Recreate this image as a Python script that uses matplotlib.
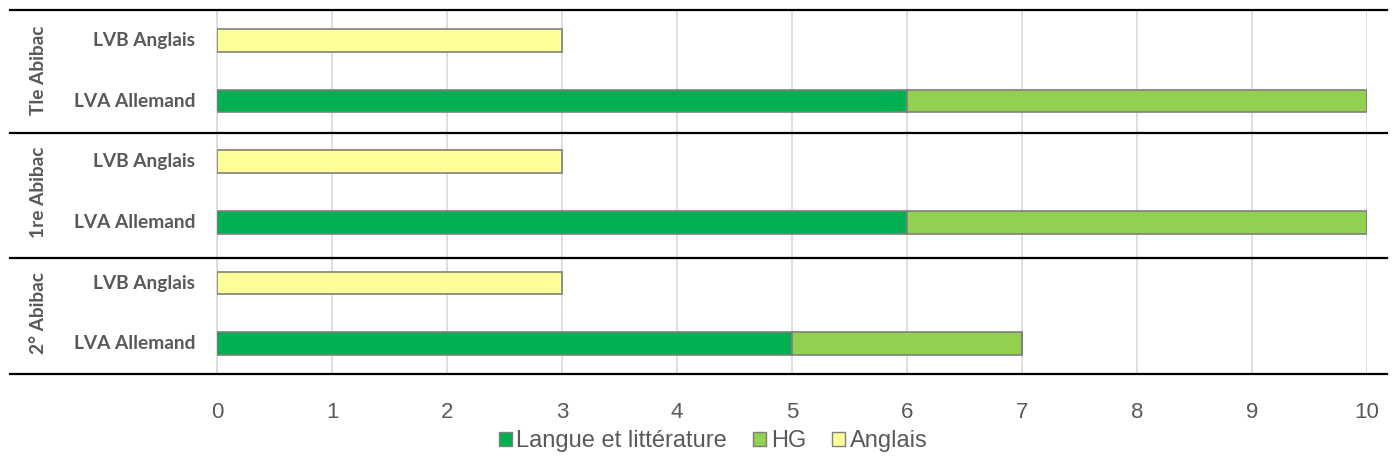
import matplotlib.pyplot as plt
from matplotlib.lines import Line2D
from matplotlib.patches import Patch

groups = ['Tle Abibac', '1re Abibac', '2° Abibac']
categories = ['LVB Anglais', 'LVA Allemand']
series = ['Langue et littérature', 'HG', 'Anglais']
colors = ['#00B050', '#92D050', '#FFFF99']

# values per row, top to bottom: Tle LVB, Tle LVA, 1re LVB, 1re LVA, 2° LVB, 2° LVA
langue = [0, 6, 0, 6, 0, 5]
hg = [0, 4, 0, 4, 0, 2]
anglais = [3, 0, 3, 0, 3, 0]
xticks = [0, 1, 2, 3, 4, 5, 6, 7, 8, 9, 10]

W, H = 1397, 469
fig = plt.figure(figsize=(W / 100, H / 100), dpi=100)
ax = fig.add_axes([217 / W, 1 - 374 / H, (1367 - 217) / W, (374 - 10) / H])

rows = list(range(6))
bh = 0.37
ec = '#7F7F7F'
ax.barh(rows, langue, height=bh, color=colors[0], edgecolor=ec, linewidth=1.2, zorder=3)
ax.barh(rows, hg, left=langue, height=bh, color=colors[1], edgecolor=ec, linewidth=1.2, zorder=3)
left2 = [a + b for a, b in zip(langue, hg)]
ax.barh(rows, anglais, left=left2, height=bh, color=colors[2], edgecolor=ec, linewidth=1.2, zorder=3)

ax.set_xlim(0, 10)
ax.set_ylim(5.5, -0.5)
ax.set_xticks(xticks)
ax.set_xticklabels([str(t) for t in xticks], fontsize=16, color='#595959', family='Liberation Sans')
ax.tick_params(axis='x', length=0, pad=20)
ax.set_yticks([])
ax.grid(axis='x', color='#D9D9D9', linewidth=1.2, zorder=0)
for s in ['top', 'right', 'bottom']:
    ax.spines[s].set_visible(False)
ax.spines['left'].set_color('#D9D9D9')
ax.spines['left'].set_linewidth(1.2)

# category labels
for i in rows:
    ax.text(-0.19, i, categories[i % 2], ha='right', va='center', fontsize=13.8,
            fontweight='bold', color='#595959', family='Lato')

# group labels (rotated)
for g, name in enumerate(groups):
    ax.text(-1.55, 2 * g + 0.5, name, ha='center', va='center', rotation=90,
            fontsize=13.8, fontweight='bold', color='#595959', family='Lato')

# separator lines
for y in [10, 133, 258, 374]:
    fig.add_artist(Line2D([10 / W, 1387 / W], [1 - y / H, 1 - y / H],
                          color='black', linewidth=1.6))

handles = [Patch(facecolor=c, edgecolor=ec, linewidth=1) for c in colors]
leg = fig.legend(handles, series, loc='center', bbox_to_anchor=(713 / W, 1 - 441 / H),
                 ncol=3, frameon=False, handlelength=0.55, handleheight=0.55,
                 handletextpad=0.2, columnspacing=1.1,
                 prop={'family': 'Liberation Sans', 'size': 17})
for t in leg.get_texts():
    t.set_color('#595959')

fig.savefig('out.png', dpi=100)
